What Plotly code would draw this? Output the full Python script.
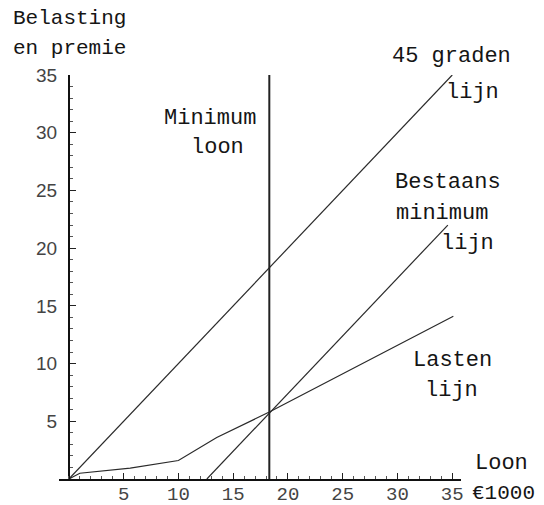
import plotly.graph_objects as go

# --- data ---
line45_x = [0, 35]
line45_y = [0, 35]

bestaans_x = [12.6, 34.6]
bestaans_y = [0, 22.0]

lasten_x = [0, 1, 5.6, 9.3, 10, 13.5, 18.3, 35.1]
lasten_y = [0, 0.5, 0.95, 1.5, 1.6, 3.6, 5.8, 14.1]

minimum_loon = 18.3

x_ticks = [5, 10, 15, 20, 25, 30, 35]
y_ticks = [5, 10, 15, 20, 25, 30, 35]

XMIN, XMAX = -0.9, 35.8
YMIN, YMAX = 0, 35

W, H = 544, 505
OFF = 8  # page body margin shifts the figure by 8px
# plot area in reference pixels: left 59, right 461, top 75, bottom 479
ML, MT = 59 - OFF, 75 - OFF
MR, MB = W - (461 - OFF), H - (479 - OFF)
PW, PH = W - ML - MR, H - MT - MB

line_color = "#2a2a2a"
mono = "Liberation Mono"

fig = go.Figure()
fig.add_trace(go.Scatter(x=line45_x, y=line45_y, mode="lines",
                         line=dict(color=line_color, width=1.2), hoverinfo="skip"))
fig.add_trace(go.Scatter(x=bestaans_x, y=bestaans_y, mode="lines",
                         line=dict(color=line_color, width=1.2), hoverinfo="skip"))
fig.add_trace(go.Scatter(x=lasten_x, y=lasten_y, mode="lines",
                         line=dict(color=line_color, width=1.2), hoverinfo="skip"))
fig.add_trace(go.Scatter(x=[minimum_loon, minimum_loon], y=[YMIN, YMAX], mode="lines",
                         line=dict(color="#222", width=2), hoverinfo="skip"))

# label text with pixel centre positions in the reference picture
labels = [
    ("Belasting", 69, 18, 21),
    ("en premie", 69, 49, 21),
    ("45 graden", 451, 57, 22),
    ("lijn", 472, 92, 22),
    ("Bestaans", 448, 182, 22),
    ("minimum", 442, 213, 22),
    ("lijn", 467, 243, 22),
    ("Minimum", 210, 118, 22),
    ("loon", 217, 147, 22),
    ("Lasten", 452, 360, 22),
    ("lijn", 451, 390, 22),
    ("Loon", 501, 463, 22),
    ("€1000", 503, 493, 21),
]
for text, px, py, size in labels:
    fx, fy = px - OFF, py - OFF
    fig.add_annotation(x=(fx - ML) / PW, y=(H - MB - fy) / PH, text=text,
                       showarrow=False, xref="paper", yref="paper",
                       xanchor="center", yanchor="middle",
                       font=dict(family=mono, size=size, color="#151515"))

fig.update_layout(
    width=W, height=H,
    margin=dict(l=ML, r=MR, t=MT, b=MB, autoexpand=False),
    plot_bgcolor="white", paper_bgcolor="white",
    showlegend=False,
    xaxis=dict(range=[XMIN, XMAX], domain=[0, 1], showgrid=False, zeroline=False,
               automargin=False,
               showline=True, linecolor="#111", linewidth=2,
               tickvals=x_ticks, ticks="inside", ticklen=6, tickcolor="#222",
               minor=dict(ticks="inside", dtick=1, tick0=0, ticklen=3, tickcolor="#555"),
               tickfont=dict(family=mono, size=19, color="#444"),
               ticklabelstandoff=-4),
    yaxis=dict(range=[YMIN, YMAX], showgrid=False, zeroline=False,
               automargin=False,
               anchor="free", position=(0 - XMIN) / (XMAX - XMIN),
               showline=True, linecolor="#111", linewidth=2,
               tickvals=y_ticks, ticks="inside", ticklen=6, tickcolor="#222",
               minor=dict(ticks="inside", dtick=1, tick0=0, ticklen=3, tickcolor="#555"),
               tickfont=dict(family="Liberation Sans", size=19, color="#444"),
               ticklabelstandoff=7),
)

fig.write_html("out.html")
